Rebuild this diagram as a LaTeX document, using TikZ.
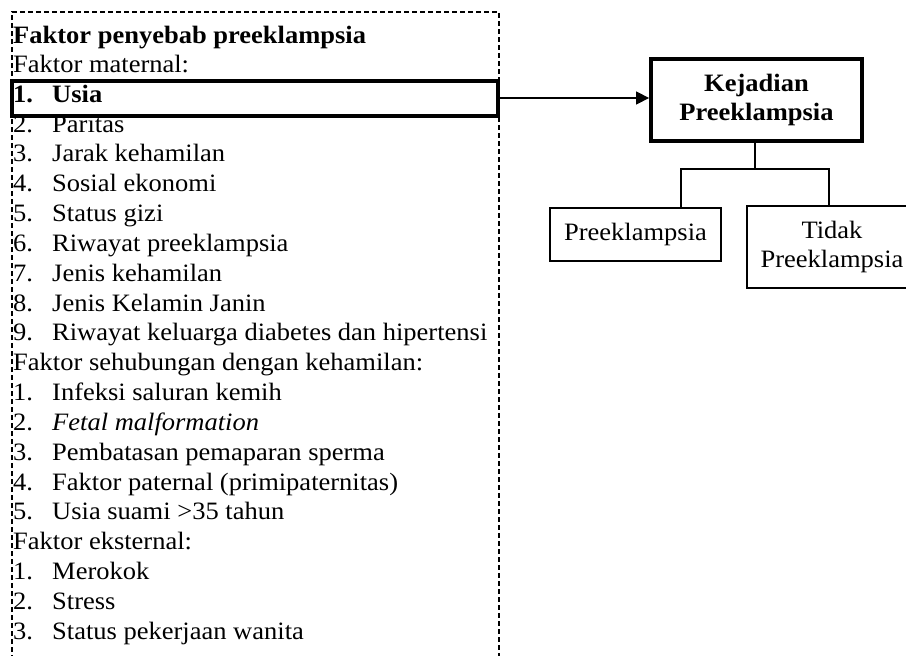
\documentclass[tikz,border=0pt]{standalone}
\usepackage{fontspec}
\setmainfont[FakeStretch=1.06]{Liberation Serif}
\usetikzlibrary{arrows.meta}
\begin{document}
\fontsize{25}{29}\selectfont
\begin{tikzpicture}[
	x=1pt, y=-1pt,
	item/.style={anchor=base west, inner sep=0pt},
	thickbox/.style={draw, rectangle, line width=3.8pt, inner sep=0pt},
	thinbox/.style={draw, rectangle, line width=1.3pt, inner sep=0pt, align=center},
	>={Triangle[length=13pt, width=13pt]}
	]
	\useasboundingbox (0,0) rectangle (906,656);
	\clip (0,0) rectangle (906,656);
	
	%-----------------------
	% Row heights
	%-----------------------
	\def\ytitle{43.3}  % title
	\def\yfirst{72.5}  % first line under title
	\def\dy{29.83}     % line pitch
	\def\xnum{13}      % numbers
	\def\xtxt{52}      % item texts
	
	%-----------------------
	% Dashed frame (open at the bottom)
	%-----------------------
	\draw[line width=1.2pt, dash pattern=on 5pt off 3pt] (12,660) -- (12,12) -- (499,12) -- (499,660);
	
	%-----------------------
	% Left list: factors
	%-----------------------
	\node[item] (title) at (\xnum,\ytitle) {\textbf{Faktor penyebab preeklampsia}};
	\node[item] (matern) at (\xnum,\yfirst) {Faktor maternal:};
	
	\node[item] (m1n) at (\xnum,\yfirst+1*\dy) {\textbf{1.}};
	\node[item] (m1) at (\xtxt,\yfirst+1*\dy) {\textbf{Usia}};
	\node[item] (m2n) at (\xnum,\yfirst+2*\dy) {2.};
	\node[item] (m2) at (\xtxt,\yfirst+2*\dy) {Paritas};
	\node[item] (m3n) at (\xnum,\yfirst+3*\dy) {3.};
	\node[item] (m3) at (\xtxt,\yfirst+3*\dy) {Jarak kehamilan};
	\node[item] (m4n) at (\xnum,\yfirst+4*\dy) {4.};
	\node[item] (m4) at (\xtxt,\yfirst+4*\dy) {Sosial ekonomi};
	\node[item] (m5n) at (\xnum,\yfirst+5*\dy) {5.};
	\node[item] (m5) at (\xtxt,\yfirst+5*\dy) {Status gizi};
	\node[item] (m6n) at (\xnum,\yfirst+6*\dy) {6.};
	\node[item] (m6) at (\xtxt,\yfirst+6*\dy) {Riwayat preeklampsia};
	\node[item] (m7n) at (\xnum,\yfirst+7*\dy) {7.};
	\node[item] (m7) at (\xtxt,\yfirst+7*\dy) {Jenis kehamilan};
	\node[item] (m8n) at (\xnum,\yfirst+8*\dy) {8.};
	\node[item] (m8) at (\xtxt,\yfirst+8*\dy) {Jenis Kelamin Janin};
	\node[item] (m9n) at (\xnum,\yfirst+9*\dy) {9.};
	\node[item] (m9) at (\xtxt,\yfirst+9*\dy) {Riwayat keluarga diabetes dan hipertensi};
	
	\node[item] (sehub) at (\xnum,\yfirst+10*\dy) {Faktor sehubungan dengan kehamilan:};
	\node[item] (s1n) at (\xnum,\yfirst+11*\dy) {1.};
	\node[item] (s1) at (\xtxt,\yfirst+11*\dy) {Infeksi saluran kemih};
	\node[item] (s2n) at (\xnum,\yfirst+12*\dy) {2.};
	\node[item] (s2) at (\xtxt,\yfirst+12*\dy) {\textit{Fetal malformation}};
	\node[item] (s3n) at (\xnum,\yfirst+13*\dy) {3.};
	\node[item] (s3) at (\xtxt,\yfirst+13*\dy) {Pembatasan pemaparan sperma};
	\node[item] (s4n) at (\xnum,\yfirst+14*\dy) {4.};
	\node[item] (s4) at (\xtxt,\yfirst+14*\dy) {Faktor paternal (primipaternitas)};
	\node[item] (s5n) at (\xnum,\yfirst+15*\dy) {5.};
	\node[item] (s5) at (\xtxt,\yfirst+15*\dy) {Usia suami >35 tahun};
	
	\node[item] (ekst) at (\xnum,\yfirst+16*\dy) {Faktor eksternal:};
	\node[item] (e1n) at (\xnum,\yfirst+17*\dy) {1.};
	\node[item] (e1) at (\xtxt,\yfirst+17*\dy) {Merokok};
	\node[item] (e2n) at (\xnum,\yfirst+18*\dy) {2.};
	\node[item] (e2) at (\xtxt,\yfirst+18*\dy) {Stress};
	\node[item] (e3n) at (\xnum,\yfirst+19*\dy) {3.};
	\node[item] (e3) at (\xtxt,\yfirst+19*\dy) {Status pekerjaan wanita};
	
	%-----------------------
	% Highlight round "Usia"
	%-----------------------
	\node[thickbox, line width=4pt, minimum width=486.5pt, minimum height=35pt] (usiabox) at (254.75,98) {};
	
	%-----------------------
	% Outcome and its categories
	%-----------------------
	\node[thickbox, align=center, minimum width=211pt, minimum height=82pt] (kejadian) at (756.5,100) {\textbf{Kejadian}\\\textbf{Preeklampsia}};
	\node[thinbox, minimum width=171pt, minimum height=53pt] (preek) at (635.5,234.5) {Preeklampsia};
	\node[thinbox, minimum width=170pt, minimum height=82pt] (tidak) at (832,247) {Tidak\\Preeklampsia};
	\coordinate (split) at (755,169);
	
	%-----------------------
	% Connections
	%-----------------------
	\draw[->, line width=1.3pt] (usiabox.east) -- (usiabox.east -| kejadian.west);
	\draw[line width=1.3pt] (kejadian.south -| split) -- (split);
	\draw[line width=1.3pt] (preek.north -| 681,0) |- (split) -| (tidak.north -| 829,0);
	
\end{tikzpicture}
\end{document}
